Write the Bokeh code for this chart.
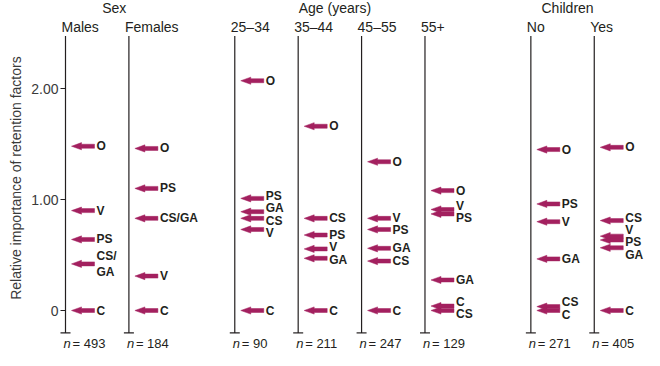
import math
from bokeh.plotting import figure
from bokeh.models import Range1d
from bokeh.core.properties import value
from bokeh.embed import file_html
from bokeh.resources import INLINE

# ---------------- data ----------------
groups = ["Sex", "Age (years)", "Children"]
columns = ["Males", "Females", "25\u201334", "35\u201344", "45\u201355", "55+", "No", "Yes"]
column_group = [0, 0, 1, 1, 1, 1, 2, 2]
n_sizes = [493, 184, 90, 211, 247, 129, 271, 405]

factors = ["O", "PS", "CS", "GA", "V", "C"]
O_vals = [1.48, 1.46, 2.07, 1.66, 1.34, 1.08, 1.45, 1.47]
PS_vals = [0.64, 1.10, 1.01, 0.68, 0.73, 0.87, 0.96, 0.635]
CS_vals = [0.42, 0.83, 0.83, 0.83, 0.445, 0.00, 0.035, 0.81]
GA_vals = [0.42, 0.83, 0.89, 0.47, 0.56, 0.275, 0.465, 0.565]
V_vals = [0.90, 0.31, 0.73, 0.555, 0.83, 0.91, 0.80, 0.67]
C_vals = [0.00, 0.00, 0.00, 0.00, 0.00, 0.04, 0.00, 0.00]
csga_label = ["CS/\nGA", "CS/GA", None, None, None, None, None, None]

y_ticks = [0, 1, 2]
y_tick_labels = ["0", "1.00", "2.00"]
y_title = "Relative importance of retention factors"

# ---------------- layout ----------------
W, H = 644, 350
PXX = 63.4            # pixels per column unit
PXY = 111.0           # pixels per value unit
PX = 1.0 / PXX
PY = 1.0 / PXY
GROUP_GAP = 1.67
header_shift_px = [17, 5, 5]

xpos = []
cur = 0.0
for i, g in enumerate(column_group):
    if i > 0:
        cur += 1.0 if g == column_group[i - 1] else GROUP_GAP
    xpos.append(cur)

x0 = -65 * PX
y_top = 310 * PY
p = figure(width=W, height=H, output_backend="svg", toolbar_location=None,
           x_range=Range1d(x0, x0 + W * PX),
           y_range=Range1d(y_top - H * PY, y_top),
           min_border=0, x_axis_type=None, y_axis_type=None,
           outline_line_color=None)
p.grid.visible = False
p.background_fill_color = "white"
p.border_fill_color = "white"

FONT = value("Liberation Sans")
TXT = "#231f20"
GREY = "#3a3a3a"
ARROW = "#a3205f"

LINE_TOP = 282 / 114
LINE_BOT = -23 / 114
HEAD_Y = 311 / 114
COL_Y = 291 / 114
N_Y = -34 / 114

# vertical lines and bottom caps
p.segment(x0=xpos, y0=[LINE_BOT] * len(xpos), x1=xpos, y1=[LINE_TOP] * len(xpos),
          line_color=TXT, line_width=1.2)
p.segment(x0=[x - 5 * PX for x in xpos], y0=[LINE_BOT] * len(xpos),
          x1=[x + 5 * PX for x in xpos], y1=[LINE_BOT] * len(xpos),
          line_color=TXT, line_width=1.2)

# y ticks on first column
p.segment(x0=[xpos[0] - 5 * PX] * len(y_ticks), y0=y_ticks,
          x1=[xpos[0]] * len(y_ticks), y1=y_ticks, line_color=TXT, line_width=1.2)
p.text(x=[xpos[0] - 7 * PX] * len(y_ticks), y=y_ticks, text=y_tick_labels,
       text_font=FONT, text_font_size="14px", text_color=GREY,
       text_align="right", text_baseline="middle")
p.text(x=[xpos[0] - 50 * PX], y=[136 / 114], text=[y_title], angle=math.pi / 2,
       text_font=FONT, text_font_size="14px", text_color=GREY,
       text_align="center", text_baseline="middle")

# group headers
gx = []
for gi, g in enumerate(groups):
    xs = [xpos[i] for i in range(len(columns)) if column_group[i] == gi]
    gx.append((xs[0] + xs[-1]) / 2 + header_shift_px[gi] * PX)
p.text(x=gx, y=[HEAD_Y] * len(groups), text=groups, text_font=FONT,
       text_font_size="14px", text_color=TXT, text_align="center", text_baseline="middle")

# column labels
p.text(x=[x - 4 * PX for x in xpos], y=[COL_Y] * len(columns), text=columns,
       text_font=FONT, text_font_size="14px", text_color=TXT,
       text_align="left", text_baseline="middle")

# n labels
p.text(x=[x - 2 * PX for x in xpos], y=[N_Y] * len(xpos), text=["n"] * len(xpos),
       text_font=FONT, text_font_size="13px", text_font_style="italic", text_color=TXT,
       text_align="left", text_baseline="middle")
p.text(x=[x + 7 * PX for x in xpos], y=[N_Y] * len(xpos),
       text=["= %d" % n for n in n_sizes],
       text_font=FONT, text_font_size="13px", text_color=TXT,
       text_align="left", text_baseline="middle")


def spread(vals, gap):
    order = sorted(range(len(vals)), key=lambda i: -vals[i])
    clusters = [[i] for i in order]

    def place(c):
        m = sum(vals[i] for i in c) / len(c)
        k = len(c)
        return {i: m + gap * ((k - 1) / 2 - j) for j, i in enumerate(c)}

    while True:
        pos = {}
        for c in clusters:
            pos.update(place(c))
        merged = False
        for a in range(len(clusters) - 1):
            if pos[clusters[a][-1]] - pos[clusters[a + 1][0]] < gap - 1e-9:
                clusters[a] = clusters[a] + clusters[a + 1]
                del clusters[a + 1]
                merged = True
                break
        if not merged:
            return pos


series = {"O": O_vals, "PS": PS_vals, "CS": CS_vals, "GA": GA_vals, "V": V_vals, "C": C_vals}

ax, ay, lx, ly, lt = [], [], [], [], []
for ci, x in enumerate(xpos):
    labels, vals = [], []
    for f in factors:
        if f == "GA" and csga_label[ci]:
            continue
        if f == "CS" and csga_label[ci]:
            labels.append(csga_label[ci])
        else:
            labels.append(f)
        vals.append(series[f][ci])
    pos = spread(vals, 12.7 / 114)
    for i, (lab, v) in enumerate(zip(labels, vals)):
        tip = x + 6 * PX
        hb = tip + 10 * PX
        tail = x + 29 * PX
        ax.append([tip, hb, hb, tail, tail, hb, hb])
        ay.append([v, v + 3.6 * PY, v + 2.0 * PY, v + 2.0 * PY,
                   v - 2.0 * PY, v - 2.0 * PY, v - 3.6 * PY])
        lx.append(x + 31 * PX)
        ly.append(pos[i])
        lt.append(lab)

p.patches(xs=ax, ys=ay, fill_color=ARROW, line_color=ARROW, line_width=0.5)
p.text(x=lx, y=ly, text=lt, text_font=FONT, text_font_size="12px",
       text_font_style="bold", text_color=TXT, text_align="left",
       text_baseline="middle", text_line_height=1.15)

open("out.html", "w").write(file_html(p, INLINE))
